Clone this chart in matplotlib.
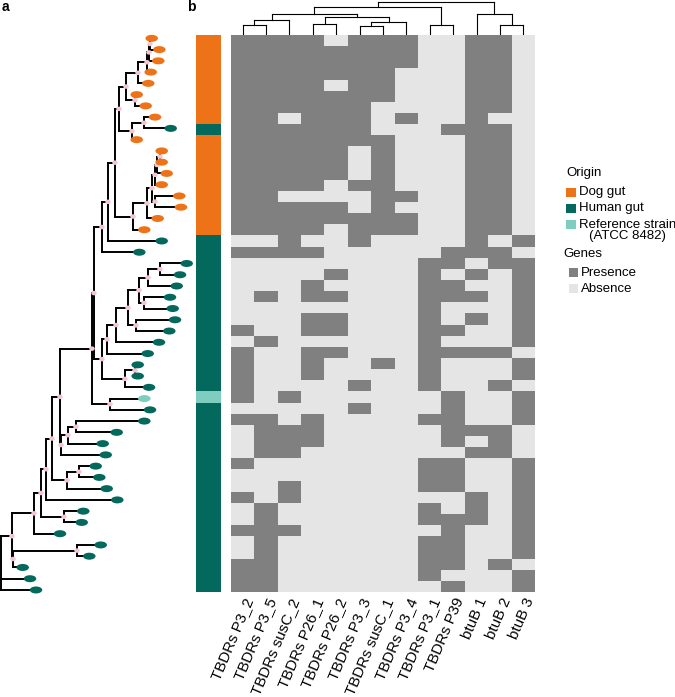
import numpy as np
import matplotlib
matplotlib.use('Agg')
import matplotlib.pyplot as plt
from matplotlib.patches import Ellipse, Rectangle
from matplotlib.colors import ListedColormap

plt.rcParams['font.family'] = ['Liberation Sans', 'DejaVu Sans']

# genes (heatmap columns, already in clustered order)
genes = ['TBDRs P3_2', 'TBDRs P3_5', 'TBDRs susC_2', 'TBDRs P26_1', 'TBDRs P26_2',
         'TBDRs P3_3', 'TBDRs susC_1', 'TBDRs P3_4', 'TBDRs P3_1', 'TBDRs P39',
         'btuB 1', 'btuB 2', 'btuB 3']

# presence (1) / absence (0), one string per strain, top to bottom
presence = [
    '1111011100110', '1111111100110', '1111111100110', '1111111000110',
    '1111011000110', '1111111000110', '1111110000110', '1101110100100',
    '1111110001110', '1111111000110', '1111101000110', '1111101000110',
    '1111101000110', '1111011000110', '1100001100110', '1111101000110',
    '1111111100110', '1111011100110', '0010010000101', '1111000001110',
    '0000000011011', '0000100010101', '0001000011001', '0101100011101',
    '0000000010001', '0001100010101', '1001100011001', '0100000010001',
    '1001100011110', '1001001010001', '1001000010001', '1000010010010',
    '1010000001001', '0000010001001', '1101000011001', '0111000001110',
    '0111000001010', '0110000000110', '1000000011001', '0000000011001',
    '0010000011001', '1010000000101', '0100000010101', '0100000011101',
    '1110000001001', '0100000011001', '0100000011001', '1100000011010',
    '1100000010001', '1100000001001',
]

# origin of each strain: D = dog gut, H = human gut, R = reference strain
origin = 'DDDDDDDD' + 'H' + 'DDDDDDDDD' + 'HHHHHHHHHHHHHH' + 'R' + 'HHHHHHHHHHHHHHHHH'

# phylogeny: tip depth and internal nodes (name, children, depth)
tip_depth = [151.7, 159.3, 158.3, 150.7, 148.3, 136.7, 145.7, 155, 170.7, 136.7,
             161.7, 161.7, 166.7, 161.7, 179.3, 181, 157.7, 144.3, 161.7, 139.3,
             186.7, 180, 176.7, 170, 172.7, 175, 169.3, 159, 147.7, 137.7,
             137.7, 149, 144.3, 150, 144.3, 116.7, 102.7, 105.7, 95.7, 99.3,
             106.7, 117.3, 83.3, 81.7, 60, 100.7, 89.3, 22.7, 30, 36]
tree_nodes = [
    ('a1', [0, 1], 150), ('a2', ['a1', 2], 149), ('a3', ['a2', 3], 147),
    ('a4', ['a3', 4], 138), ('a5', [5, 6], 135), ('a6', ['a4', 'a5'], 126),
    ('a7', [7, 8], 144), ('a8', ['a7', 9], 132), ('a9', ['a6', 'a8'], 119),
    ('b1', [10, 11], 160), ('b2', ['b1', 12], 157), ('b3', ['b2', 13], 155),
    ('b4', [14, 15], 155), ('b5', ['b3', 'b4'], 152), ('b6', ['b5', 16], 147),
    ('b7', ['b6', 17], 133), ('P', ['a9', 'b7'], 115), ('Q', ['P', 18], 108),
    ('R', ['Q', 19], 102),
    ('c1', [20, 21], 160), ('c2', ['c1', 22], 148), ('c3', [23, 24], 144),
    ('c4', ['c2', 'c3'], 139), ('c5', [25, 26], 136), ('c6', ['c4', 'c5'], 128),
    ('c7', ['c6', 27], 116), ('c8', ['c7', 28], 107), ('c9', [29, 30], 135),
    ('c10', ['c9', 31], 125), ('U', ['c8', 'c10'], 102), ('S', ['R', 'U'], 94),
    ('d1', [32, 33], 110), ('I', ['S', 'd1'], 92), ('e1', [34, 35], 76),
    ('J', ['e1', 36], 68), ('K', ['J', 37], 61), ('G', ['I', 'K'], 60),
    ('h1', [38, 39], 79), ('H', ['h1', 40], 67), ('F', ['G', 'H'], 52),
    ('E', ['F', 41], 46), ('g1', [42, 43], 64), ('D', ['E', 'g1'], 41),
    ('B', ['D', 44], 34), ('f1', [45, 46], 77), ('C', ['f1', 47], 13),
    ('A', ['B', 'C'], 12), ('root', ['A', 48, 49], 1),
]

# gene dendrogram: (name, children, height)
gene_links = [
    ('m1', [0, 1], 9), ('m2', ['m1', 2], 14), ('m3', [3, 4], 10),
    ('m4', [5, 6], 8), ('m5', ['m4', 7], 12), ('m6', ['m3', 'm5'], 17),
    ('m7', ['m2', 'm6'], 20), ('m8', [8, 9], 9), ('m9', ['m7', 'm8'], 26),
    ('m10', [11, 12], 9), ('m11', [10, 'm10'], 20), ('top', ['m9', 'm11'], 31),
]

orig_colors = {'D': '#ee7318', 'H': '#03695d', 'R': '#7fcdbf'}
c_pres, c_abs = '#808080', '#e5e5e5'

W, H = 675, 697
fig = plt.figure(figsize=(W / 100, H / 100), dpi=100)


def px_axes(x0, y0, x1, y1):
    return fig.add_axes([x0 / W, 1 - y1 / H, (x1 - x0) / W, (y1 - y0) / H])


mat = np.array([[int(c) for c in r] for r in presence])
n_rows, n_cols = mat.shape

# heatmap
ax = px_axes(231, 35, 535, 592)
ax.imshow(mat, cmap=ListedColormap([c_abs, c_pres]), aspect='auto',
          interpolation='nearest', vmin=0, vmax=1)
ax.set_xticks([])
ax.set_yticks([])
for s in ax.spines.values():
    s.set_visible(False)
for j, g in enumerate(genes):
    ax.text(j + 0.3, n_rows - 0.5 + 0.6, g, rotation=67, ha='right', va='center',
            rotation_mode='anchor', fontsize=10.8, transform=ax.transData)

# origin bar
axo = px_axes(196, 35, 221, 592)
codes = {'D': 0, 'H': 1, 'R': 2}
axo.imshow(np.array([[codes[o]] for o in origin]), aspect='auto', interpolation='nearest',
           cmap=ListedColormap([orig_colors['D'], orig_colors['H'], orig_colors['R']]),
           vmin=0, vmax=2)
axo.axis('off')

# gene dendrogram
axd = px_axes(231, 1, 535, 35)
gpos = {i: (i, 0) for i in range(n_cols)}
for name, kids, h in gene_links:
    xs = [gpos[k][0] for k in kids]
    for k in kids:
        kx, kh = gpos[k]
        axd.plot([kx, kx], [kh, h], color='black', lw=0.8)
    axd.plot([min(xs), max(xs)], [h, h], color='black', lw=0.8)
    gpos[name] = (np.mean([min(xs), max(xs)]), h)
axd.set_xlim(-0.5, n_cols - 0.5)
axd.set_ylim(0, 32)
axd.axis('off')

# phylogenetic tree
axt = px_axes(0, 32.7, 200, 595.6)
pos = {i: (tip_depth[i], i) for i in range(n_rows)}
for name, kids, x in tree_nodes:
    ys = [pos[k][1] for k in kids]
    axt.plot([x, x], [ys[0], ys[-1]], color='black', lw=1.4, solid_capstyle='projecting')
    for k in kids:
        kx, ky = pos[k]
        axt.plot([x, kx], [ky, ky], color='black', lw=1.4, solid_capstyle='projecting')
    pos[name] = (x, (ys[0] + ys[-1]) / 2)
for name, kids, x in tree_nodes[:-1]:
    nx, ny = pos[name]
    axt.add_patch(Ellipse((nx, ny), 5.5, 0.4, color='#f4c6cf', zorder=3, lw=0))
for i in range(n_rows):
    axt.add_patch(Ellipse((tip_depth[i], i), 12.5, 0.62, color=orig_colors[origin[i]],
                          zorder=4, lw=0))
axt.set_xlim(0, 200)
axt.set_ylim(n_rows - 0.5, -0.5)
axt.axis('off')

# panel letters and legend
fig.text(2 / W, 1 - 7 / H, 'a', fontsize=10, fontweight='bold', va='center')
fig.text(187 / W, 1 - 7 / H, 'b', fontsize=10, fontweight='bold', va='center')

axl = px_axes(0, 0, W, H)
axl.set_xlim(0, W)
axl.set_ylim(H, 0)
axl.axis('off')
axl.text(566, 173, 'Origin', fontsize=9.5, va='center')
leg = [('Dog gut', orig_colors['D'], 192.5), ('Human gut', orig_colors['H'], 208.5),
       ('Reference strain\n(ATCC 8482)', orig_colors['R'], 224)]
for lab, col, yy in leg:
    axl.add_patch(Rectangle((566, yy - 4.5), 10, 9, color=col, lw=0))
    if '\n' in lab:
        axl.text(579, yy - 5, lab, fontsize=9.5, va='top', ha='left', multialignment='center',
                 linespacing=0.85)
    else:
        axl.text(579, yy, lab, fontsize=9.5, va='center')
axl.text(563, 254, 'Genes', fontsize=9.5, va='center')
for lab, col, yy in [('Presence', c_pres, 272.5), ('Absence', c_abs, 288.5)]:
    axl.add_patch(Rectangle((568.5, yy - 4.5), 9, 9, color=col, lw=0))
    axl.text(581, yy, lab, fontsize=9.5, va='center')

fig.savefig('out.png', dpi=100)
